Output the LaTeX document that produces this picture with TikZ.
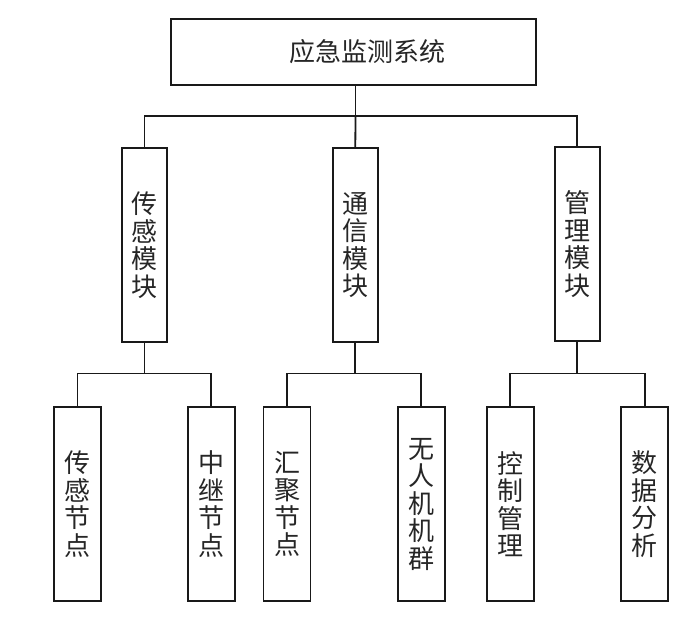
\documentclass[tikz,border=0pt]{standalone}
\usepackage{fontspec}
\newfontfamily\cjk{Noto Sans CJK SC}
\begin{document}
\begin{tikzpicture}[x=1pt,y=-1pt,
  box/.style={draw=black!90, line width=1.8pt, inner sep=0pt, align=center,
    font=\cjk\fontsize{26}{27.5}\selectfont, text=black!85},
  topbox/.style={box, minimum width=365, minimum height=66},
  modbox/.style={box, minimum width=45, minimum height=194},
  leafbox/.style={box, minimum width=47, minimum height=194},
  conn/.style={draw=black!90, line width=1.8pt}]
\useasboundingbox (0,0) rectangle (699,622);
\node[topbox] (top) at (353.5,52) {};
\node[font=\cjk\fontsize{26}{27.5}\selectfont, text=black!85, inner sep=0pt] (toptext) at (367,52) {应急监测系统};
\node[modbox] (m1) at (144.5,245) {传\\感\\模\\块};
\node[modbox] (m2) at (355.3,245) {通\\信\\模\\块};
\node[modbox] (m3) at (577.2,244) {管\\理\\模\\块};
\node[leafbox] (l1) at (77.5,504) {传\\感\\节\\点};
\node[leafbox] (l2) at (211.3,504) {中\\继\\节\\点};
\node[leafbox] (l3) at (287,504) {汇\\聚\\节\\点};
\node[leafbox] (l4) at (421.2,504) {无\\人\\机\\机\\群};
\node[leafbox] (l5) at (510.2,504) {控\\制\\管\\理};
\node[leafbox] (l6) at (644.7,504) {数\\据\\分\\析};
\coordinate (bus0) at (355.5,116);
\coordinate (bus1) at (0,373.5);
% top level
\draw[conn] (top.south -| bus0) -- (bus0);
\draw[conn] (m1.north) |- (bus0) -| (m3.north);
\draw[conn] (bus0) -- (m2.north);
% second level
\draw[conn] (m1.south) -- (m1.south |- bus1);
\draw[conn] (l1.north) |- (m1.south |- bus1) -| (l2.north);
\draw[conn] (m2.south) -- (m2.south |- bus1);
\draw[conn] (l3.north) |- (m2.south |- bus1) -| (l4.north);
\draw[conn] (m3.south) -- (m3.south |- bus1);
\draw[conn] (l5.north) |- (m3.south |- bus1) -| (l6.north);
\end{tikzpicture}
\end{document}
